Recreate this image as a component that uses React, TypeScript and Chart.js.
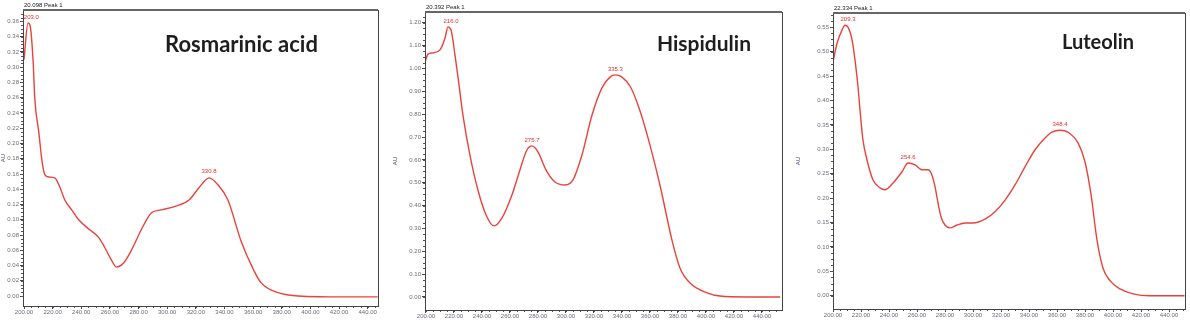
import React, { useEffect, useRef } from "react";
import { Chart, registerables } from "chart.js";
Chart.register(...registerables);

// ---------- shared axis data ----------
const xTickValues = [200, 220, 240, 260, 280, 300, 320, 340, 360, 380, 400, 420, 440];
const xTickLabels = ["200.00", "220.00", "240.00", "260.00", "280.00", "300.00", "320.00", "340.00", "360.00", "380.00", "400.00", "420.00", "440.00"];

// ---------- Rosmarinic acid ----------
const rosWavelength = [200, 202.8, 204.2, 206.3, 207.6, 210.4, 212.5, 214.6, 217.4, 221.5, 225, 228.5, 233.3, 238.2, 245.8, 252.1, 256.3, 261.1, 264.6, 269.4, 275, 281.9, 288.9, 295.8, 306.2, 315.3, 322.2, 329.2, 335.4, 342.4, 351.4, 360.4, 365.3, 373.6, 386, 414, 447];
const rosAbsorbance = [0.31, 0.358, 0.355, 0.31, 0.257, 0.214, 0.178, 0.159, 0.156, 0.155, 0.143, 0.126, 0.113, 0.1, 0.087, 0.077, 0.064, 0.047, 0.038, 0.043, 0.06, 0.087, 0.109, 0.113, 0.118, 0.126, 0.142, 0.155, 0.146, 0.126, 0.073, 0.034, 0.018, 0.007, 0.001, -0.001, -0.001];
const rosPeakWavelength = [203.0, 329.2];
const rosPeakAbsorbance = [0.358, 0.155];
const rosPeakLabels = ["203.0", "330.8"];
const rosYTicks = [0, 0.02, 0.04, 0.06, 0.08, 0.1, 0.12, 0.14, 0.16, 0.18, 0.2, 0.22, 0.24, 0.26, 0.28, 0.3, 0.32, 0.34, 0.36];
const rosYTickLabels = ["0.00", "0.02", "0.04", "0.06", "0.08", "0.10", "0.12", "0.14", "0.16", "0.18", "0.20", "0.22", "0.24", "0.26", "0.28", "0.30", "0.32", "0.34", "0.36"];

// ---------- Hispidulin ----------
const hisWavelength = [199.5, 201.4, 205, 210, 213.6, 215.7, 217.9, 220.7, 223.6, 226.4, 231.4, 237.1, 242.9, 248.6, 254.3, 261.4, 267.1, 272.1, 275.7, 280, 285.7, 292.1, 299.3, 305, 311.4, 318.6, 325.7, 331.4, 335.3, 340, 346, 352, 358.6, 367.1, 375.7, 381.4, 388.6, 400.7, 410, 428, 453];
const hisAbsorbance = [1.03, 1.063, 1.068, 1.081, 1.133, 1.182, 1.168, 1.059, 0.928, 0.796, 0.621, 0.468, 0.359, 0.311, 0.346, 0.446, 0.556, 0.643, 0.661, 0.635, 0.556, 0.503, 0.49, 0.512, 0.621, 0.796, 0.915, 0.962, 0.972, 0.962, 0.92, 0.83, 0.696, 0.49, 0.249, 0.127, 0.061, 0.018, 0.004, 0, 0];
const hisPeakWavelength = [215.7, 275.7, 335.3];
const hisPeakAbsorbance = [1.182, 0.661, 0.972];
const hisPeakLabels = ["216.0", "275.7", "335.3"];
const hisYTicks = [0, 0.1, 0.2, 0.3, 0.4, 0.5, 0.6, 0.7, 0.8, 0.9, 1.0, 1.1, 1.2];
const hisYTickLabels = ["0.00", "0.10", "0.20", "0.30", "0.40", "0.50", "0.60", "0.70", "0.80", "0.90", "1.00", "1.10", "1.20"];

// ---------- Luteolin ----------
const lutWavelength = [200, 202.9, 206.4, 208.6, 210.7, 213.6, 215.7, 217.9, 219.3, 221.4, 224.3, 228.6, 233.6, 237.1, 242.9, 249.3, 253.6, 258.6, 263.6, 267.9, 270.7, 272.9, 275, 277.1, 280, 283.6, 288.6, 294.3, 300, 308.6, 315.7, 322.9, 330, 337.1, 344.3, 351.4, 356.4, 362.1, 367.8, 375, 380, 384.3, 388.5, 392.8, 397.8, 405, 414.2, 426.4, 451];
const lutAbsorbance = [0.479, 0.517, 0.544, 0.554, 0.55, 0.524, 0.483, 0.427, 0.38, 0.319, 0.278, 0.237, 0.221, 0.217, 0.231, 0.254, 0.272, 0.268, 0.258, 0.258, 0.247, 0.223, 0.19, 0.162, 0.145, 0.139, 0.145, 0.149, 0.149, 0.157, 0.172, 0.196, 0.227, 0.264, 0.299, 0.323, 0.335, 0.339, 0.335, 0.313, 0.274, 0.207, 0.115, 0.057, 0.031, 0.014, 0.004, 0, 0];
const lutPeakWavelength = [208.6, 253.6, 362.1];
const lutPeakAbsorbance = [0.554, 0.272, 0.339];
const lutPeakLabels = ["209.3", "254.6", "348.4"];
const lutYTicks = [0, 0.05, 0.1, 0.15, 0.2, 0.25, 0.3, 0.35, 0.4, 0.45, 0.5, 0.55];
const lutYTickLabels = ["0.00", "0.05", "0.10", "0.15", "0.20", "0.25", "0.30", "0.35", "0.40", "0.45", "0.50", "0.55"];

const panels = [
  {
    name: "Rosmarinic acid", header: "20.098 Peak 1",
    wl: rosWavelength, ab: rosAbsorbance,
    pw: rosPeakWavelength, pa: rosPeakAbsorbance, pl: rosPeakLabels,
    yt: rosYTicks, ytl: rosYTickLabels, yMinor: 0.005,
    xMin: 199.3, xMax: 447.2, yMin: -0.013, yMax: 0.375,
    left: 0, width: 390, yAxisW: 23, padTop: 10, padRight: 12, xAxisH: 14,
    titleLeft: 165, titleTop: 30, titleSize: 22,
  },
  {
    name: "Hispidulin", header: "20.392 Peak 1",
    wl: hisWavelength, ab: hisAbsorbance,
    pw: hisPeakWavelength, pa: hisPeakAbsorbance, pl: hisPeakLabels,
    yt: hisYTicks, ytl: hisYTickLabels, yMinor: 0.025,
    xMin: 199.3, xMax: 454.3, yMin: -0.057, yMax: 1.247,
    left: 392, width: 396, yAxisW: 33, padTop: 12, padRight: 6, xAxisH: 10,
    titleLeft: 657, titleTop: 30, titleSize: 21,
  },
  {
    name: "Luteolin", header: "22.334 Peak 1",
    wl: lutWavelength, ab: lutAbsorbance,
    pw: lutPeakWavelength, pa: lutPeakAbsorbance, pl: lutPeakLabels,
    yt: lutYTicks, ytl: lutYTickLabels, yMinor: 0.0125,
    xMin: 200, xMax: 451.4, yMin: -0.027, yMax: 0.579,
    left: 795, width: 395, yAxisW: 38, padTop: 13, padRight: 5, xAxisH: 11,
    titleLeft: 1062, titleTop: 29, titleSize: 20,
  },
];

const tickFont = { family: "'Liberation Sans', Arial, sans-serif", size: 6 };
const tickColor = "#6b6b78";

function Panel({ p }: { p: any }) {
  const ref = useRef<HTMLCanvasElement>(null);
  useEffect(() => {
    const deco = {
      id: "deco",
      afterDraw(chart: any) {
        const { ctx, chartArea: a, scales } = chart;
        const xs = scales.x, ys = scales.y;
        ctx.save();
        ctx.strokeStyle = "#555";
        ctx.lineWidth = 1;
        ctx.beginPath();
        for (let v = 200; v <= p.xMax; v += 5) {
          const px = Math.round(xs.getPixelForValue(v)) + 0.5;
          ctx.moveTo(px, a.bottom);
          ctx.lineTo(px, a.bottom + 2);
        }
        for (let v = 0; v <= p.yMax; v += p.yMinor) {
          const py = Math.round(ys.getPixelForValue(v)) + 0.5;
          ctx.moveTo(a.left - 2, py);
          ctx.lineTo(a.left, py);
        }
        ctx.stroke();
        ctx.strokeStyle = "#444";
        ctx.lineWidth = 1;
        ctx.strokeRect(Math.round(a.left) + 0.5, Math.round(a.top) + 0.5, Math.round(a.right - a.left), Math.round(a.bottom - a.top));
        ctx.lineWidth = 2;
        ctx.strokeStyle = "#666";
        ctx.beginPath();
        ctx.moveTo(a.left, Math.round(a.top));
        ctx.lineTo(a.right, Math.round(a.top));
        ctx.stroke();
        ctx.fillStyle = "#222";
        ctx.font = "6px 'Liberation Sans', Arial, sans-serif";
        ctx.textAlign = "left";
        ctx.textBaseline = "alphabetic";
        ctx.fillText(p.header, a.left + 1, a.top - 3);
        ctx.save();
        ctx.translate(a.left - p.yAxisW + 5, (a.top + a.bottom) / 2);
        ctx.rotate(-Math.PI / 2);
        ctx.textAlign = "center";
        ctx.fillStyle = "#3a3a6a";
        ctx.fillText("AU", 0, 0);
        ctx.restore();
        ctx.fillStyle = "#e0302a";
        ctx.textAlign = "center";
        ctx.textBaseline = "bottom";
        for (let i = 0; i < p.pw.length; i++) {
          const px = xs.getPixelForValue(p.pw[i]);
          const py = ys.getPixelForValue(p.pa[i]);
          ctx.fillText(p.pl[i], px + (i === 0 ? 3 : 0), py - 3);
        }
        ctx.restore();
      },
    };
    const chart = new Chart(ref.current as HTMLCanvasElement, {
      type: "line",
      data: {
        datasets: [
          {
            data: p.wl.map((v: number, i: number) => ({ x: v, y: p.ab[i] })),
            borderColor: "#e8433b",
            borderWidth: 1.4,
            pointRadius: 0,
            cubicInterpolationMode: "monotone",
            fill: false,
          } as any,
        ],
      },
      options: {
        animation: false,
        responsive: false,
        maintainAspectRatio: false,
        layout: { padding: { top: p.padTop, right: p.padRight, left: 0, bottom: 0 } },
        plugins: { legend: { display: false }, tooltip: { enabled: false } },
        scales: {
          x: {
            type: "linear",
            min: p.xMin,
            max: p.xMax,
            afterBuildTicks: (s: any) => {
              s.ticks = xTickValues.map((v) => ({ value: v }));
            },
            afterFit: (s: any) => {
              s.height = p.xAxisH;
            },
            ticks: {
              autoSkip: false,
              maxRotation: 0,
              padding: 0,
              font: tickFont,
              color: tickColor,
              callback: (v: any) => xTickLabels[xTickValues.indexOf(v)],
            },
            grid: { drawOnChartArea: false, tickLength: 3, color: "#444" },
            border: { display: false },
          },
          y: {
            type: "linear",
            min: p.yMin,
            max: p.yMax,
            afterBuildTicks: (s: any) => {
              s.ticks = p.yt.map((v: number) => ({ value: v }));
            },
            afterFit: (s: any) => {
              s.width = p.yAxisW;
            },
            ticks: {
              autoSkip: false,
              padding: 1,
              font: tickFont,
              color: tickColor,
              callback: (v: any) => {
                const idx = p.yt.findIndex((t: number) => Math.abs(t - v) < 1e-9);
                return idx >= 0 ? p.ytl[idx] : "";
              },
            },
            grid: { drawOnChartArea: false, tickLength: 3, color: "#444" },
            border: { display: false },
          },
        },
      } as any,
      plugins: [deco],
    });
    return () => chart.destroy();
  }, []);
  return (
    <canvas
      ref={ref}
      width={p.width}
      height={320}
      style={{ position: "absolute", left: p.left, top: 0, width: p.width, height: 320 }}
    />
  );
}

export default function App() {
  return (
    <div style={{ position: "fixed", left: 0, top: 0, width: 1190, height: 320, background: "#fff", overflow: "hidden" }}>
      {panels.map((p) => (
        <Panel key={p.name} p={p} />
      ))}
      {panels.map((p) => (
        <div
          key={p.name + "-t"}
          style={{
            position: "absolute",
            left: p.titleLeft,
            top: p.titleTop,
            fontFamily: "Lato, 'Open Sans', sans-serif",
            fontWeight: 700,
            fontSize: p.titleSize,
            color: "#1e1e1e",
            whiteSpace: "nowrap",
          }}
        >
          {p.name}
        </div>
      ))}
    </div>
  );
}
